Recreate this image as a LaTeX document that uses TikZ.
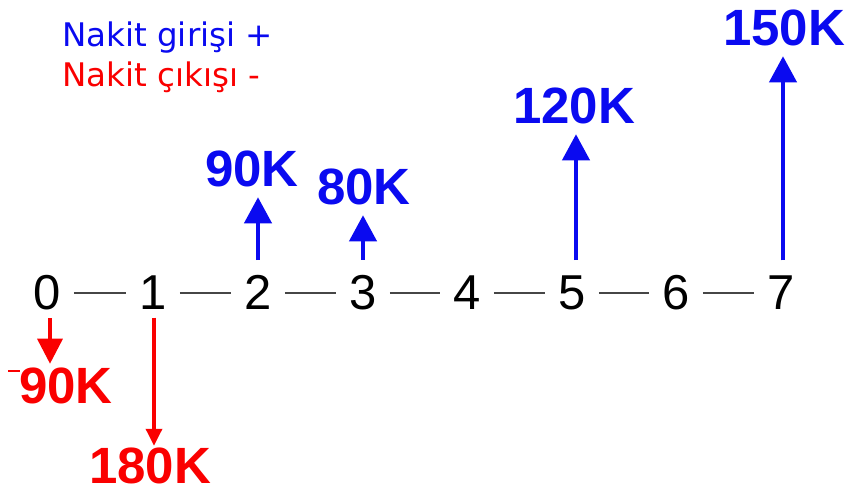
\documentclass[tikz,border=0pt]{standalone}
\usepackage{fontspec}
\setmainfont{Liberation Sans}
\newfontfamily\legendfont{DejaVu Sans}
\usetikzlibrary{arrows.meta}
\definecolor{cfin}{RGB}{10,10,240}
\definecolor{cfout}{RGB}{250,0,0}
\definecolor{dashgray}{RGB}{70,70,70}
\begin{document}
\begin{tikzpicture}[x=1pt,y=-1pt,
  num/.style={inner sep=0pt,font=\fontsize{49}{49}\selectfont},
  inlbl/.style={inner sep=0pt,text=cfin,font=\fontsize{51}{51}\selectfont\bfseries},
  outlbl/.style={inner sep=0pt,text=cfout,font=\fontsize{51}{51}\selectfont\bfseries},
  legend/.style={inner sep=0pt,anchor=base west,font=\fontsize{32.5}{32.5}\selectfont\legendfont},
  tline/.style={draw=dashgray,line width=2pt,shorten <=13pt,shorten >=13pt},
  inarrow/.style={draw=cfin,line width=4pt,-{Triangle[length=26pt,width=27pt]}},
  outarrow/.style={draw=cfout,line width=3.5pt}
]
\useasboundingbox[fill=white] (0,0) rectangle (846,495);

% legend
\node[legend,text=cfin] (lg1) at (62,47) {Nakit girişi +};
\node[legend,text=cfout] (lg2) at (62,86) {Nakit çıkışı -};

% timeline numbers
\node[num] (n0) at (47,292.5) {0};
\node[num] (n1) at (153,292.5) {1};
\node[num] (n2) at (258,292.5) {2};
\node[num] (n3) at (363,292.5) {3};
\node[num] (n4) at (467,292.5) {4};
\node[num] (n5) at (572,292.5) {5};
\node[num] (n6) at (676,292.5) {6};
\node[num] (n7) at (781,292.5) {7};

\draw[tline] (n0.east) -- (n1.west);
\draw[tline] (n1.east) -- (n2.west);
\draw[tline] (n2.east) -- (n3.west);
\draw[tline] (n3.east) -- (n4.west);
\draw[tline] (n4.east) -- (n5.west);
\draw[tline] (n5.east) -- (n6.west);
\draw[tline] (n6.east) -- (n7.west);

% inflow labels
\node[inlbl] (l2) at (252,169) {90K};
\node[inlbl] (l3) at (364,187) {80K};
\node[inlbl] (l5) at (574,106) {120K};
\node[inlbl] (l7) at (784,28) {150K};

\draw[inarrow,shorten <=15pt,shorten >=10pt] (n2.north) -- (n2.north |- l2.south);
\draw[inarrow,shorten <=15pt,shorten >=10pt] (n3.north) -- (n3.north |- l3.south);
\draw[inarrow,shorten <=15pt,shorten >=10pt] ([xshift=4pt]n5.north) -- ([xshift=4pt]n5.north |- l5.south);
\draw[inarrow,shorten <=15pt,shorten >=10pt] ([xshift=2pt]n7.north) -- ([xshift=2pt]n7.north |- l7.south);

% outflow labels
\node[outlbl] (m0) at (66,386) {90K};
\node[outlbl] (m1) at (150,466) {180K};
\draw[cfout,line width=1.5pt] (8,371) -- (20,371);

\draw[outarrow,-{Triangle[length=25pt,width=25pt]},shorten <=8pt,shorten >=4pt] ([xshift=3pt]n0.south) -- ([xshift=3pt]n0.south |- m0.north);
\draw[outarrow,-{Triangle[length=17pt,width=16pt]},shorten <=8pt,shorten >=2pt] ([xshift=1pt]n1.south) -- ([xshift=1pt]n1.south |- m1.north);
\end{tikzpicture}
\end{document}
